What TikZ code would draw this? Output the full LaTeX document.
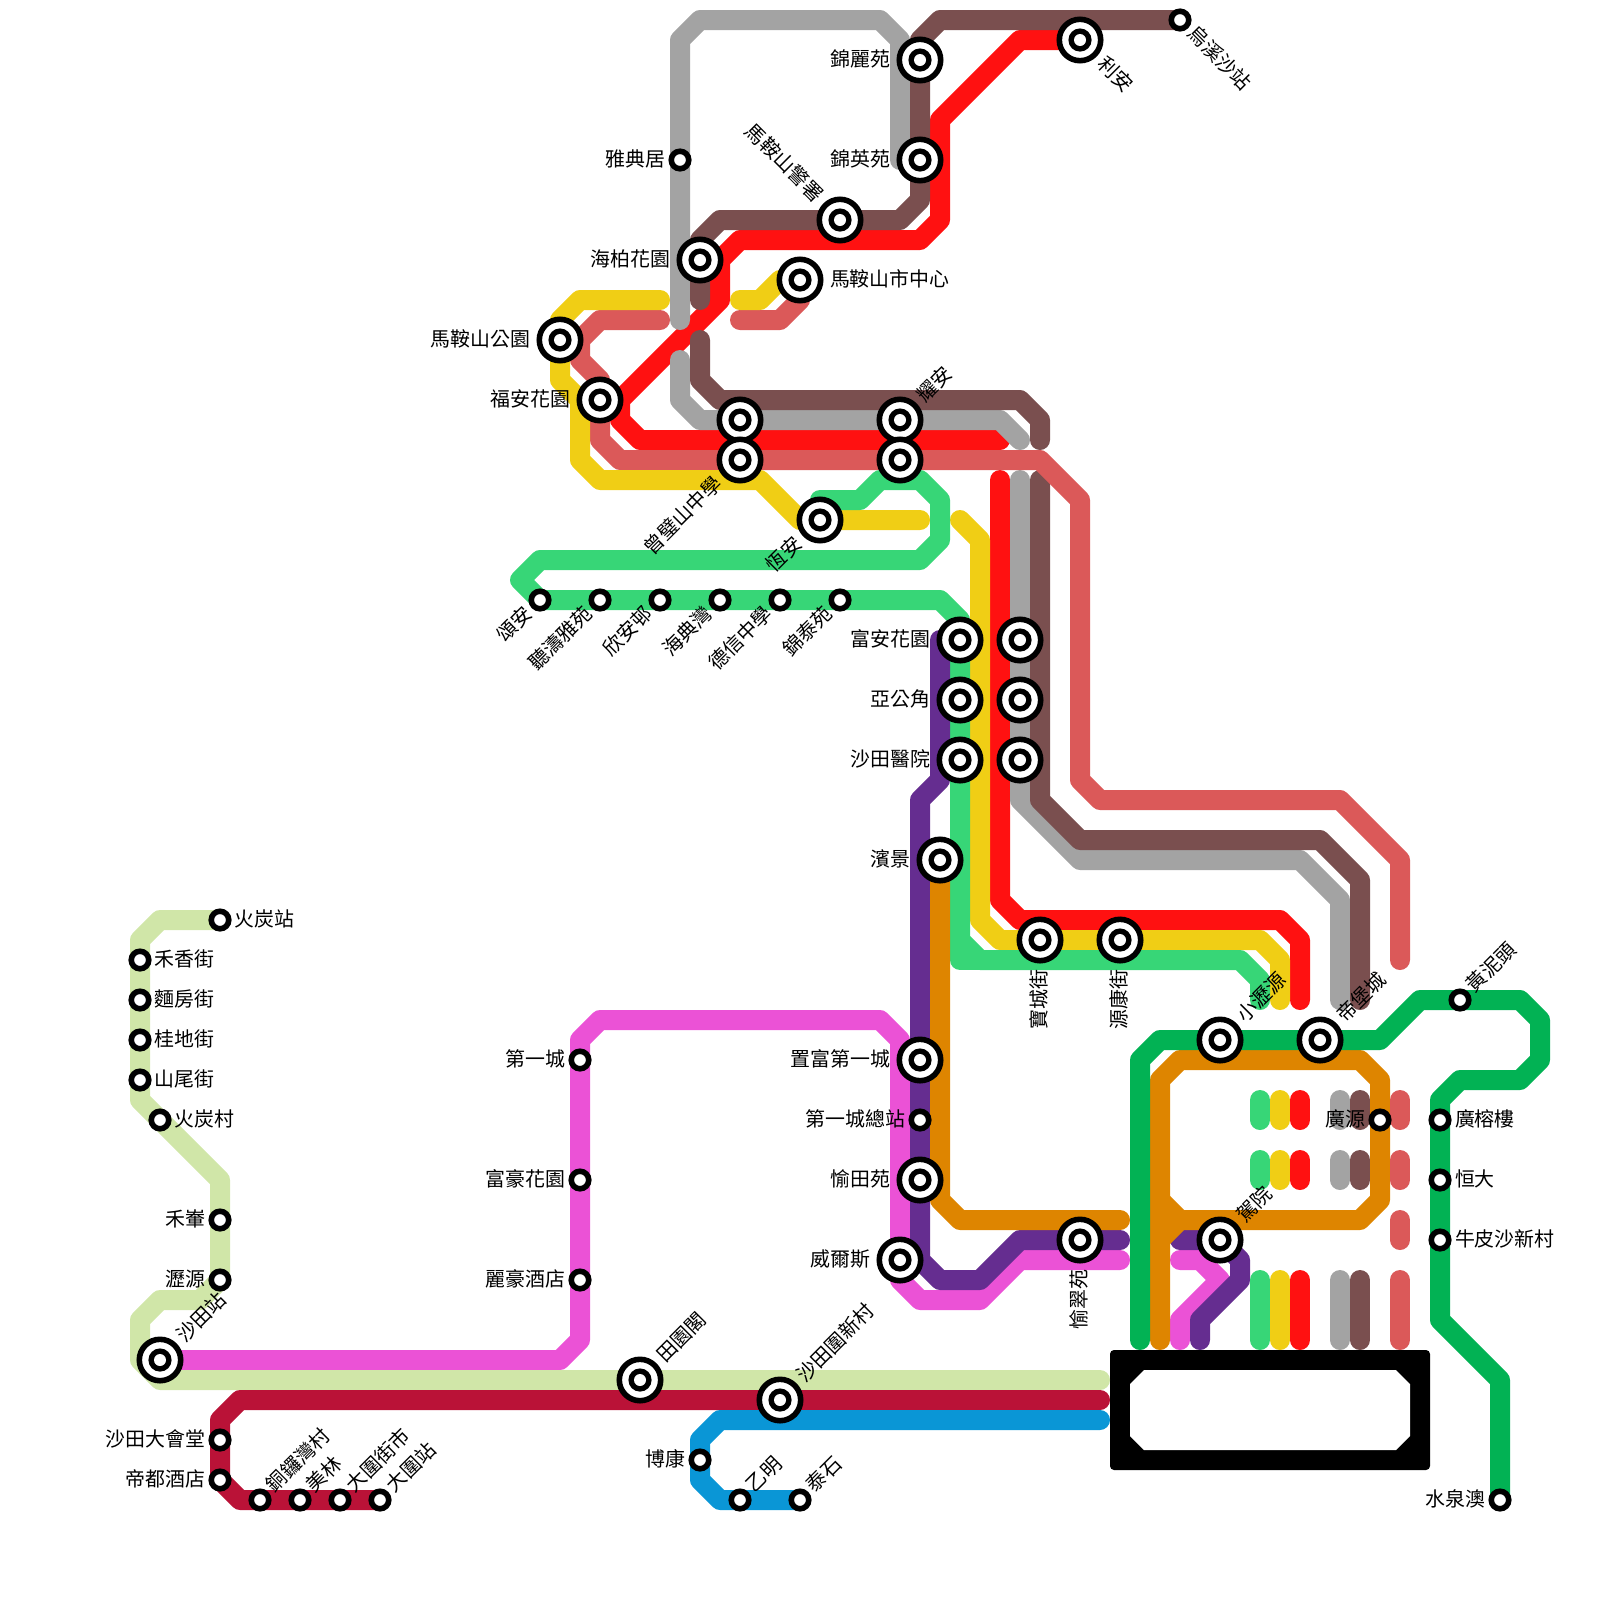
\documentclass[tikz,border=0pt]{standalone}
\usepackage{fontspec}
\usepackage{tikz}
\usetikzlibrary{backgrounds}
\newfontfamily\stnfont{Noto Sans CJK TC}

\definecolor{lnRed}{HTML}{FF1111}
\definecolor{lnBrown}{HTML}{7A4F4F}
\definecolor{lnGrey}{HTML}{A3A3A3}
\definecolor{lnPink}{HTML}{DB5959}
\definecolor{lnYellow}{HTML}{F0CE15}
\definecolor{lnGreen}{HTML}{37D677}
\definecolor{lnDeep}{HTML}{02B254}
\definecolor{lnPurple}{HTML}{652D90}
\definecolor{lnOrange}{HTML}{DE8500}
\definecolor{lnMagenta}{HTML}{EB52D6}
\definecolor{lnLime}{HTML}{D0E6A8}
\definecolor{lnCrimson}{HTML}{BA1237}
\definecolor{lnBlue}{HTML}{0A96D6}

\tikzset{
  metro/.style={line width=.5cm, line cap=round, line join=round},
  bigstn/.style={circle, draw=black, fill=white, line width=.14cm, inner sep=0pt, outer sep=.2325cm, minimum size=1.035cm,
    path picture={\fill[black] (path picture bounding box.center) circle (.29cm); \fill[white] (path picture bounding box.center) circle (.15cm);}},
  smallstn/.style={circle, draw=black, fill=white, line width=.14cm, inner sep=0pt, outer sep=.156cm, minimum size=.4375cm},
  upR/.style={rotate=45, anchor=west},
  dnL/.style={rotate=45, anchor=east},
  dnR/.style={rotate=-45, anchor=west},
  upL/.style={rotate=-45, anchor=east},
  dnV/.style={rotate=90, anchor=east},
}

\begin{document}
\begin{tikzpicture}[x=.5cm, y=-.5cm, every label/.style={font=\stnfont\fontsize{14.17pt}{14.17pt}\selectfont, inner sep=0pt, outer sep=0pt, text height=1em, text depth=.12em}]
\useasboundingbox (0,0) rectangle (80,80);

% Stations (north)
\node (jinli) at (46,3) [bigstn, label={left:錦麗苑}] {};
\node (jinying) at (46,8) [bigstn, label={left:錦英苑}] {};
\node (lian) at (54,2) [bigstn, label={[dnR]-45:利安}] {};
\node (wuxisha) at (59,1) [smallstn, label={[dnR]-45:烏溪沙站}] {};
\node (yadian) at (34,8) [smallstn, label={left:雅典居}] {};
\node (jingshu) at (42,11) [bigstn, label={[upL]135:馬鞍山警署}] {};
\node (haibo) at (35,13) [bigstn, label={left:海柏花園}] {};
\node (shizhong) at (40,14) [bigstn, label={right:馬鞍山市中心}] {};
\node (magong) at (28,17) [bigstn, label={left:馬鞍山公園}] {};
\node (fuan) at (30,20) [bigstn, label={left:福安花園}] {};
\node (crossA) at (37,21) [bigstn] {};
\node (yaoan) at (45,21) [bigstn, label={[upR]45:耀安}] {};
\node (zengbi) at (37,23) [bigstn, label={[dnL]225:曾璧山中學}] {};
\node (crossB) at (45,23) [bigstn] {};
\node (hengan) at (41,26) [bigstn, label={[dnL]225:恆安}] {};
\node (songan) at (27,30) [smallstn, label={[dnL]225:頌安}] {};
\node (tingtao) at (30,30) [smallstn, label={[dnL]225:聽濤雅苑}] {};
\node (xinan) at (33,30) [smallstn, label={[dnL]225:欣安邨}] {};
\node (haidian) at (36,30) [smallstn, label={[dnL]225:海典灣}] {};
\node (dexin) at (39,30) [smallstn, label={[dnL]225:德信中學}] {};
\node (jintai) at (42,30) [smallstn, label={[dnL]225:錦泰苑}] {};

% Stations (centre)
\node (fuanhy) at (48,32) [bigstn, label={left:富安花園}] {};
\node (yagong) at (48,35) [bigstn, label={left:亞公角}] {};
\node (yiyuan) at (48,38) [bigstn, label={left:沙田醫院}] {};
\node (crossC) at (51,32) [bigstn] {};
\node (crossD) at (51,35) [bigstn] {};
\node (crossE) at (51,38) [bigstn] {};
\node (binjing) at (47,43) [bigstn, label={left:濱景}] {};
\node (baocheng) at (52,47) [bigstn, label={[dnV]270:寶城街}] {};
\node (yuankang) at (56,47) [bigstn, label={[dnV]270:源康街}] {};
\node (zhifu) at (46,53) [bigstn, label={left:置富第一城}] {};
\node (zongzhan) at (46,56) [smallstn, label={left:第一城總站}] {};
\node (yutian) at (46,59) [bigstn, label={left:愉田苑}] {};
\node (weier) at (45,63) [bigstn, label={left:威爾斯}] {};
\node (yucui) at (54,62) [bigstn, label={[dnV]270:愉翠苑}] {};
\node (diyi) at (29,53) [smallstn, label={left:第一城}] {};
\node (fuhao) at (29,59) [smallstn, label={left:富豪花園}] {};
\node (lihao) at (29,64) [smallstn, label={left:麗豪酒店}] {};

% Stations (east)
\node (xiaoli) at (61,52) [bigstn, label={[upR]45:小瀝源}] {};
\node (dibao) at (66,52) [bigstn, label={[upR]45:帝堡城}] {};
\node (jiayuan) at (61,62) [bigstn, label={[upR]45:駕院}] {};
\node (huangni) at (73,50) [smallstn, label={[upR]45:黃泥頭}] {};
\node (guangyuan) at (69,56) [smallstn, label={left:廣源}] {};
\node (guangrong) at (72,56) [smallstn, label={right:廣榕樓}] {};
\node (hengda) at (72,59) [smallstn, label={right:恒大}] {};
\node (niupi) at (72,62) [smallstn, label={right:牛皮沙新村}] {};
\node (shuiquan) at (75,75) [smallstn, label={left:水泉澳}] {};

% Stations (west and south)
\node (huotan) at (11,46) [smallstn, label={right:火炭站}] {};
\node (hexiang) at (7,48) [smallstn, label={right:禾香街}] {};
\node (mianfang) at (7,50) [smallstn, label={right:麵房街}] {};
\node (guidi) at (7,52) [smallstn, label={right:桂地街}] {};
\node (shanwei) at (7,54) [smallstn, label={right:山尾街}] {};
\node (huocun) at (8,56) [smallstn, label={right:火炭村}] {};
\node (hejiao) at (11,61) [smallstn, label={left:禾輋}] {};
\node (liyuan) at (11,64) [smallstn, label={left:瀝源}] {};
\node (shatin) at (8,68) [bigstn, label={[upR]45:沙田站}] {};
\node (tianyuan) at (32,69) [bigstn, label={[upR]45:田園閣}] {};
\node (xincun) at (39,70) [bigstn, label={[upR]45:沙田圍新村}] {};
\node (huitang) at (11,72) [smallstn, label={left:沙田大會堂}] {};
\node (didu) at (11,74) [smallstn, label={left:帝都酒店}] {};
\node (tongluo) at (13,75) [smallstn, label={[upR]45:銅鑼灣村}] {};
\node (meilin) at (15,75) [smallstn, label={[upR]45:美林}] {};
\node (jieshi) at (17,75) [smallstn, label={[upR]45:大圍街市}] {};
\node (dawei) at (19,75) [smallstn, label={[upR]45:大圍站}] {};
\node (bokang) at (35,73) [smallstn, label={left:博康}] {};
\node (yiming) at (37,75) [smallstn, label={[upR]45:乙明}] {};
\node (taishi) at (40,75) [smallstn, label={[upR]45:泰石}] {};

% Line ends
\coordinate (lineEast) at (55,69);
\coordinate (crimEast) at (55,70);
\coordinate (blueEast) at (55,71);
\coordinate (orangeEast) at (56,61);
\coordinate (purpleEast) at (56,62);
\coordinate (magentaEast) at (56,63);

\begin{scope}[on background layer]
% Depot
\node (depot) at (63.5,70.5) [fill=black, rounded corners=.1cm, minimum width=8cm, minimum height=3cm] {};
\fill[white] (57.2,68.5) -- (69.8,68.5) -- (70.5,69.2) -- (70.5,71.8) -- (69.8,72.5) -- (57.2,72.5) -- (56.5,71.8) -- (56.5,69.2) -- cycle;

% Lines
\draw[metro, draw=lnRed] (lian.center) -- (51,2) -- (47,6) -- (47,11) -- (46,12) -- (37,12) -- (36,13) -- (36,15) -- (31,20) -- (31,21) -- (32,22) -- (50,22);
\draw[metro, draw=lnRed] (50,24) -- (50,45) -- (51,46) -- (64,46) -- (65,47) -- (65,50);
\draw[metro, draw=lnGrey] (34,16) -- (34,2) -- (35,1) -- (44,1) -- (45,2) -- (45,8);
\draw[metro, draw=lnGrey] (34,18) -- (34,20) -- (35,21) -- (50,21) -- (51,22);
\draw[metro, draw=lnGrey] (51,24) -- (crossC.center) -- (crossE.center) -- (51,40) -- (54,43) -- (65,43) -- (67,45) -- (67,50);
\draw[metro, draw=lnBrown] (wuxisha.center) -- (47,1) -- (46,2) -- (jinli.center) -- (jinying.center) -- (46,10) -- (45,11) -- (36,11) -- (35,12) -- (35,15);
\draw[metro, draw=lnBrown] (35,17) -- (35,19) -- (36,20) -- (51,20) -- (52,21) -- (52,22);
\draw[metro, draw=lnBrown] (52,24) -- (52,40) -- (54,42) -- (66,42) -- (68,44) -- (68,50);
\draw[metro, draw=lnPink] (33,16) -- (30,16) -- (29,17) -- (29,18) -- (30,19) -- (30,22) -- (31,23) -- (52,23) -- (54,25) -- (54,39) -- (55,40) -- (67,40) -- (70,43) -- (70,48);
\draw[metro, draw=lnPink] (37,16) -- (39,16) -- (40,15) -- (shizhong.center);
\draw[metro, draw=lnYellow] (33,15) -- (29,15) -- (28,16) -- (28,19) -- (29,20) -- (29,23) -- (30,24) -- (38,24) -- (40,26) -- (46,26);
\draw[metro, draw=lnYellow] (37,15) -- (38,15) -- (39,14) -- (shizhong.center);
\draw[metro, draw=lnYellow] (48,26) -- (49,27) -- (49,46) -- (50,47) -- (63,47) -- (64,48) -- (64,50);
\draw[metro, draw=lnGreen] (41,25) -- (43,25) -- (44,24) -- (46,24) -- (47,25) -- (47,27) -- (46,28) -- (27,28) -- (26,29) -- (songan.center) -- (47,30) -- (48,31) -- (48,47) -- (49,48) -- (62,48) -- (63,49) -- (63,50);
\draw[metro, draw=lnGreen] (48,47) -- (48,48) -- (49,48);
\draw[metro, draw=lnMagenta] (shatin.center) -- (28,68) -- (29,67) -- (29,52) -- (30,51) -- (44,51) -- (45,52) -- (45,64) -- (46,65) -- (49,65) -- (51,63) -- (magentaEast);
\draw[metro, draw=lnMagenta] (59,63) -- (60,63) -- (61,64) -- (59,66) -- (59,67);
\draw[metro, draw=lnPurple] (47,32) -- (47,39) -- (46,40) -- (46,63) -- (47,64) -- (49,64) -- (51,62) -- (purpleEast);
\draw[metro, draw=lnPurple] (59,62) -- (jiayuan.center) -- (62,63) -- (62,64) -- (60,66) -- (60,67);
\draw[metro, draw=lnOrange] (binjing.center) -- (47,60) -- (48,61) -- (orangeEast);
\draw[metro, draw=lnOrange] (58,67) -- (58,54) -- (59,53) -- (68,53) -- (69,54) -- (69,60) -- (68,61) -- (59,61) -- (58,62);
\draw[metro, draw=lnOrange] (59,61) -- (58,60);
\draw[metro, draw=lnDeep] (57,67) -- (57,53) -- (58,52) -- (69,52) -- (71,50) -- (76,50) -- (77,51) -- (77,53) -- (76,54) -- (73,54) -- (72,55) -- (72,66) -- (75,69) -- (shuiquan.center);
\draw[metro, draw=lnLime] (huotan.center) -- (8,46) -- (7,47) -- (7,55) -- (11,59) -- (11,64) -- (10,65) -- (8,65) -- (7,66) -- (7,68) -- (8,69) -- (lineEast);
\draw[metro, draw=lnCrimson] (crimEast) -- (12,70) -- (11,71) -- (11,74) -- (12,75) -- (dawei.center);
\draw[metro, draw=lnBlue] (blueEast) -- (36,71) -- (35,72) -- (35,74) -- (36,75) -- (taishi.center);

% Stubs beside the depot
\foreach \x/\c in {63/lnGreen, 64/lnYellow, 65/lnRed, 67/lnGrey, 68/lnBrown, 70/lnPink} {
  \draw[metro, draw=\c] (\x,55) -- (\x,56);
  \draw[metro, draw=\c] (\x,58) -- (\x,59);
  \draw[metro, draw=\c] (\x,64) -- (\x,67);
}
\draw[metro, draw=lnPink] (70,61) -- (70,62);
\end{scope}

\end{tikzpicture}
\end{document}
